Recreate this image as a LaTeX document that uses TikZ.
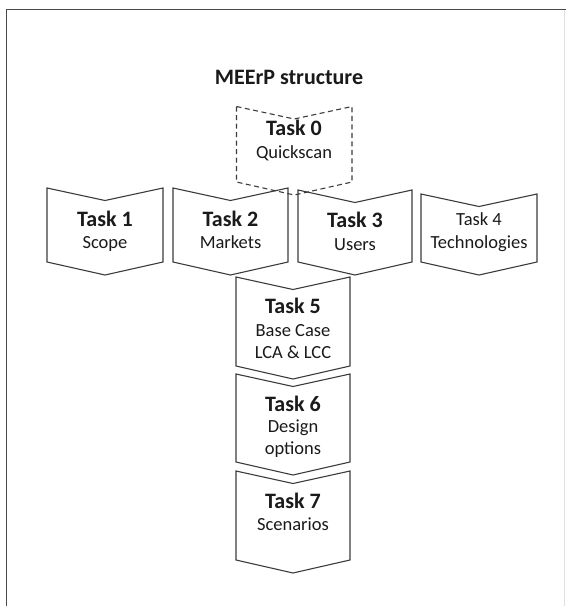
\documentclass[tikz,border=0pt]{standalone}
\usepackage{fontspec}
\setmainfont{Carlito}
\definecolor{linec}{HTML}{3C3C3C}
\definecolor{txt}{HTML}{1A1A1A}
\definecolor{framec}{HTML}{4A4A4A}
\newcommand{\chevshape}[5]{%
  \draw[chev,#5] (#1,#3) -- ({(#1+#2)/2},{#3+12.5}) -- (#2,#3) -- (#2,#4)
     -- ({(#1+#2)/2},{#4+13}) -- (#1,#4) -- cycle;}
\begin{document}
\begin{tikzpicture}[x=1pt,y=-1pt,line join=miter]
\tikzset{
  chev/.style={draw=linec,line width=1.1pt},
  dashedchev/.style={dash pattern=on 5pt off 3.5pt},
  ttl/.style={font=\fontsize{22}{26}\selectfont\bfseries,text=txt,anchor=base,inner sep=0pt},
  sub/.style={font=\fontsize{18.5}{22}\selectfont,text=txt,anchor=base,inner sep=0pt},
  framel/.style={draw=framec,line width=1.6pt},
  framer/.style={draw=black!12,line width=0.8pt}
}
\useasboundingbox (0,0) rectangle (566,606);
\fill[white] (0,0) rectangle (566,606);
\draw[framel] (6.5,606) -- (6.5,9.5) -- (566,9.5);
\draw[framer] (564,10) -- (564,606);

\node[ttl] (title) at (289,84) {MEErP structure};

% Task 0
\chevshape{236.5}{352}{106.5}{182}{dashedchev}
\node[ttl] (t0a) at (294,135) {Task 0};
\node[sub] (t0b) at (294,158) {Quickscan};

% Row of tasks 1-4
\chevshape{47}{163}{188}{262}{}
\node[ttl] (t1a) at (105,226) {Task 1};
\node[sub] (t1b) at (105,248) {Scope};

\chevshape{173}{288}{188}{262}{}
\node[ttl] (t2a) at (230.5,226) {Task 2};
\node[sub] (t2b) at (230.5,248) {Markets};

\chevshape{298}{412}{190}{262}{}
\node[ttl] (t3a) at (355,227) {Task 3};
\node[sub] (t3b) at (355,250) {Users};

\chevshape{421}{537}{194}{262}{}
\node[sub] (t4a) at (479,225) {Task 4};
\node[sub] (t4b) at (479,248) {Technologies};

% Column of tasks 5-7
\chevshape{236}{350}{277}{366}{}
\node[ttl] (t5a) at (293,313) {Task 5};
\node[sub] (t5b) at (293,336.5) {Base Case};
\node[sub] (t5c) at (293,358) {LCA \& LCC};

\chevshape{236}{350}{374}{462}{}
\node[ttl] (t6a) at (293,411) {Task 6};
\node[sub] (t6b) at (293,432.5) {Design};
\node[sub] (t6c) at (293,454) {options};

\chevshape{236}{350}{471}{560}{}
\node[ttl] (t7a) at (293,508.5) {Task 7};
\node[sub] (t7b) at (293,530) {Scenarios};
\end{tikzpicture}
\end{document}
